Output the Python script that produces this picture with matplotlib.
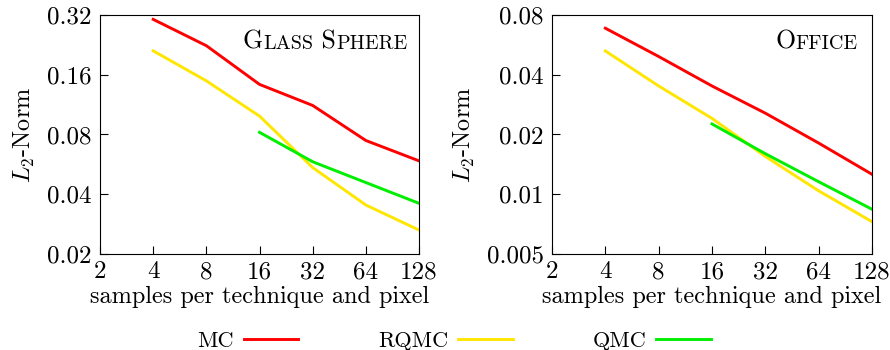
"""Two-panel L2 error vs samples plot (Glass Sphere / Office), MC vs RQMC vs QMC."""

import matplotlib

matplotlib.use("Agg")
import matplotlib.pyplot as plt

plt.rcParams["font.family"] = "serif"
plt.rcParams["font.serif"] = ["cmr10", "DejaVu Serif"]
plt.rcParams["mathtext.fontset"] = "cm"
plt.rcParams["axes.formatter.use_mathtext"] = True
plt.rcParams["font.size"] = 18

SAMPLES = [4, 8, 16, 32, 64, 128]
SAMPLES_QMC = [16, 32, 64, 128]
X_TICKS = [2, 4, 8, 16, 32, 64, 128]

# Glass Sphere
GLASS_MC = [0.304, 0.224, 0.143, 0.112, 0.0746, 0.0589]
GLASS_RQMC = [0.211, 0.149, 0.099, 0.0545, 0.0353, 0.0264]
GLASS_QMC = [0.082, 0.0583, 0.0458, 0.036]
GLASS_YTICKS = [0.02, 0.04, 0.08, 0.16, 0.32]
GLASS_YLABELS = ["0.02", "0.04", "0.08", "0.16", "0.32"]

# Office
OFFICE_MC = [0.0686, 0.0494, 0.0351, 0.0256, 0.0181, 0.0126]
OFFICE_RQMC = [0.0527, 0.0351, 0.0241, 0.0155, 0.0104, 0.00727]
OFFICE_QMC = [0.0226, 0.0160, 0.01156, 0.0084]
OFFICE_YTICKS = [0.005, 0.01, 0.02, 0.04, 0.08]
OFFICE_YLABELS = ["0.005", "0.01", "0.02", "0.04", "0.08"]

COLORS = {"MC": "#ff0000", "RQMC": "#ffe600", "QMC": "#00ee00"}


def small_caps(ax, x, y, words, big=18.5, small=14.5):
    """Fake small caps by chaining text pieces of two sizes."""
    prev = None
    for wi, word in enumerate(words):
        pieces = [(word[0], big), (word[1:].upper(), small)]
        if wi > 0:
            pieces[0] = (" " + word[0], big)
        for txt, size in pieces:
            if prev is None:
                prev = ax.text(x, y, txt, fontsize=size, transform=ax.transAxes,
                               ha="left", va="baseline")
            else:
                prev = ax.annotate(txt, xy=(1, 0), xycoords=prev, fontsize=size,
                                   ha="left", va="bottom")


def panel(ax, mc, rqmc, qmc, yticks, ylabels, title_words, title_x):
    ax.plot(SAMPLES, mc, color=COLORS["MC"], lw=2.1, label="MC")
    ax.plot(SAMPLES, rqmc, color=COLORS["RQMC"], lw=2.1, label="RQMC")
    ax.plot(SAMPLES_QMC, qmc, color=COLORS["QMC"], lw=2.1, label="QMC")
    ax.set_xscale("log", base=2)
    ax.set_yscale("log", base=2)
    ax.set_xlim(X_TICKS[0], X_TICKS[-1])
    ax.set_ylim(yticks[0], yticks[-1])
    ax.set_xticks(X_TICKS)
    ax.set_xticklabels([str(v) for v in X_TICKS])
    ax.set_yticks(yticks)
    ax.set_yticklabels(ylabels)
    ax.minorticks_off()
    ax.tick_params(direction="in", length=6, width=0.8, top=False, right=False)
    ax.tick_params(axis="x", pad=5)
    ax.tick_params(axis="y", pad=6)
    for s in ax.spines.values():
        s.set_linewidth(0.8)
    ax.set_xlabel("samples per technique and pixel", labelpad=2, fontsize=17.5)
    ax.set_ylabel(r"$L_2$-Norm", labelpad=7, fontsize=17.5)
    small_caps(ax, title_x, 0.86, title_words)


fig = plt.figure(figsize=(8.9, 3.5), dpi=100)
ax1 = fig.add_axes([0.1124, 0.2743, 0.3584, 0.683])
ax2 = fig.add_axes([0.6202, 0.2743, 0.3596, 0.683])

panel(ax1, GLASS_MC, GLASS_RQMC, GLASS_QMC, GLASS_YTICKS, GLASS_YLABELS,
      ["Glass", "Sphere"], 0.448)
panel(ax2, OFFICE_MC, OFFICE_RQMC, OFFICE_QMC, OFFICE_YTICKS, OFFICE_YLABELS,
      ["Office"], 0.697)

handles, labels = ax1.get_legend_handles_labels()
fig.legend(handles, labels, loc="lower center", bbox_to_anchor=(0.51, -0.06), ncol=3,
           frameon=False, markerfirst=False, handlelength=2.45, handletextpad=0.45,
           columnspacing=3.6, fontsize=16)

fig.savefig("out.png", dpi=100)
